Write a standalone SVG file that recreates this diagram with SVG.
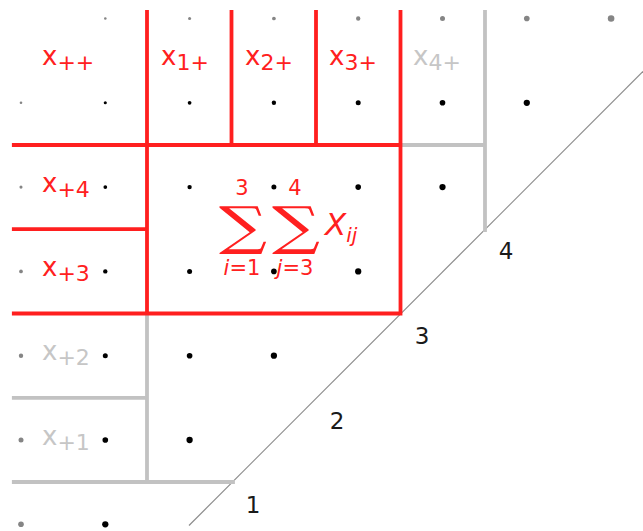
<svg xmlns="http://www.w3.org/2000/svg" width="643" height="531" viewBox="0 0 643 531">
<style>
.red{stroke:#ff1f1f;stroke-width:3.8;fill:none;stroke-linecap:square}
.gl{stroke:#c2c2c2;stroke-width:3.8;fill:none;stroke-linecap:square}
.diag{stroke:#8c8c8c;stroke-width:1.2;fill:none}
.lab{font-family:"DejaVu Sans",sans-serif;font-size:26px}
.sub{font-size:22px}
.r{fill:#ff2020}
.g{fill:#c6c6c6}
.num{font-family:"DejaVu Sans",sans-serif;font-size:23px;fill:#1a1a1a;text-anchor:middle}
.gd{fill:#858585}
.bd{fill:#000}
.sig{font-family:"DejaVu Serif",serif;font-size:56px;fill:#ff2020}
.lim{font-family:"DejaVu Sans",sans-serif;font-size:21px;fill:#ff2020;text-anchor:middle}
</style>
<rect width="643" height="531" fill="#fff"/>
<g id="dots">
<circle class="gd" cx="105.3" cy="18.5" r="1.3"/>
<circle class="gd" cx="189.6" cy="18.5" r="1.54"/>
<circle class="gd" cx="273.9" cy="18.5" r="1.86"/>
<circle class="gd" cx="358.2" cy="18.5" r="2.18"/>
<circle class="gd" cx="442.5" cy="18.5" r="2.5"/>
<circle class="gd" cx="526.8" cy="18.5" r="2.82"/>
<circle class="gd" cx="611.1" cy="18.5" r="3.3"/>
<circle class="gd" cx="21" cy="102.8" r="1.3"/>
<circle class="bd" cx="105.3" cy="102.8" r="1.54"/>
<circle class="bd" cx="189.6" cy="102.8" r="1.86"/>
<circle class="bd" cx="273.9" cy="102.8" r="2.18"/>
<circle class="bd" cx="358.2" cy="102.8" r="2.5"/>
<circle class="bd" cx="442.5" cy="102.8" r="2.82"/>
<circle class="bd" cx="526.8" cy="102.8" r="3.14"/>
<circle class="gd" cx="21" cy="187.1" r="1.54"/>
<circle class="bd" cx="105.3" cy="187.1" r="1.86"/>
<circle class="bd" cx="189.6" cy="187.1" r="2.18"/>
<circle class="bd" cx="273.9" cy="187.1" r="2.5"/>
<circle class="bd" cx="358.2" cy="187.1" r="2.82"/>
<circle class="bd" cx="442.5" cy="187.1" r="3.14"/>
<circle class="gd" cx="21" cy="271.4" r="1.86"/>
<circle class="bd" cx="105.3" cy="271.4" r="2.18"/>
<circle class="bd" cx="189.6" cy="271.4" r="2.5"/>
<circle class="bd" cx="273.9" cy="271.4" r="2.82"/>
<circle class="bd" cx="358.2" cy="271.4" r="3.14"/>
<circle class="gd" cx="21" cy="355.7" r="2.18"/>
<circle class="bd" cx="105.3" cy="355.7" r="2.5"/>
<circle class="bd" cx="189.6" cy="355.7" r="2.82"/>
<circle class="bd" cx="273.9" cy="355.7" r="3.14"/>
<circle class="gd" cx="21" cy="440" r="2.5"/>
<circle class="bd" cx="105.3" cy="440" r="2.82"/>
<circle class="bd" cx="189.6" cy="440" r="3.14"/>
<circle class="gd" cx="21" cy="524.3" r="2.82"/>
<circle class="bd" cx="105.3" cy="524.3" r="3.14"/>
</g>
<g id="connectors">
<line class="diag" x1="189" y1="525.5" x2="643" y2="71.5"/>
<path class="gl" d="M401 145H485M485 11.8V230M147 313.5V482M13.8 397.8H147M13.8 482H233"/>
<path class="red" d="M147 11.8V313.5M231.5 11.8V145M316 11.8V145M400.5 11.8V313.5M13.8 145H400.5M13.8 229.2H147M13.8 313.5H400.5"/>
</g>
<g id="cell-xpp"><text class="lab r" x="42" y="65">x<tspan class="sub" dy="5">++</tspan></text></g>
<g id="cell-x1p"><text class="lab r" x="161" y="65">x<tspan class="sub" dy="5">1+</tspan></text></g>
<g id="cell-x2p"><text class="lab r" x="245" y="65">x<tspan class="sub" dy="5">2+</tspan></text></g>
<g id="cell-x3p"><text class="lab r" x="329" y="65">x<tspan class="sub" dy="5">3+</tspan></text></g>
<g id="cell-x4p"><text class="lab g" x="413" y="65">x<tspan class="sub" dy="5">4+</tspan></text></g>
<g id="cell-xp4"><text class="lab r" x="42" y="192">x<tspan class="sub" dy="5">+4</tspan></text></g>
<g id="cell-xp3"><text class="lab r" x="42" y="276">x<tspan class="sub" dy="5">+3</tspan></text></g>
<g id="cell-xp2"><text class="lab g" x="42" y="360">x<tspan class="sub" dy="5">+2</tspan></text></g>
<g id="cell-xp1"><text class="lab g" x="42" y="445">x<tspan class="sub" dy="5">+1</tspan></text></g>
<g id="cell-sum">
<text class="sig" transform="translate(219,244) scale(1.2,0.93)">∑</text>
<text class="sig" transform="translate(272,244) scale(1.2,0.93)">∑</text>
<text class="lim" x="242" y="195">3</text>
<text class="lim" x="295" y="195">4</text>
<text class="lim" x="242" y="275"><tspan font-style="italic">i</tspan>=1</text>
<text class="lim" x="295" y="275"><tspan font-style="italic">j</tspan>=3</text>
<text font-family="DejaVu Sans, sans-serif" font-size="31" font-style="italic" fill="#ff2020" x="325" y="235">X<tspan font-size="20" dy="7">ij</tspan></text>
</g>
<g id="ticks">
<text class="num" x="253" y="513">1</text>
<text class="num" x="337" y="429">2</text>
<text class="num" x="422" y="344">3</text>
<text class="num" x="506" y="259">4</text>
</g>
</svg>
